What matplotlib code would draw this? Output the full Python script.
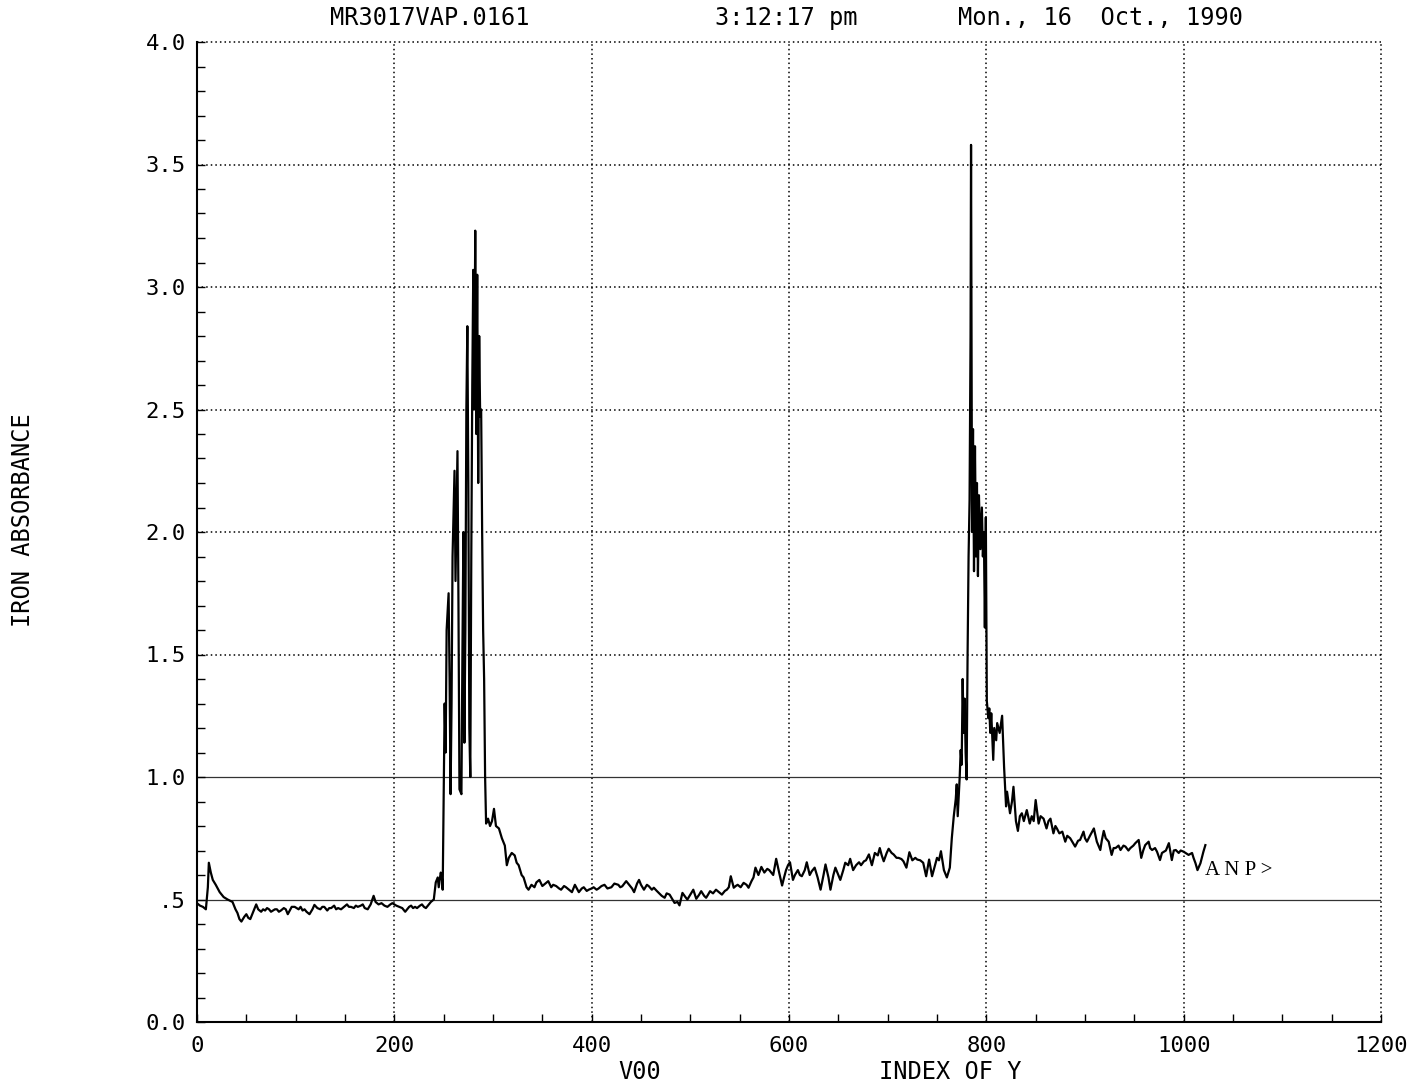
import matplotlib
matplotlib.use("Agg")
import matplotlib.pyplot as plt
from matplotlib.ticker import MultipleLocator

# ---- data: (index, iron absorbance) ----
baseline_start = [
    (0, 0.485), (3, 0.475), (6, 0.47), (9, 0.46), (11, 0.55), (12, 0.65), (14, 0.61),
    (16, 0.58), (19, 0.56), (23, 0.53), (27, 0.51), (31, 0.50), (36, 0.49), (39, 0.46),
    (41, 0.445), (43, 0.42), (45, 0.41), (48, 0.43), (50, 0.44), (52, 0.425), (54, 0.42),
    (57, 0.45), (60, 0.48), (62, 0.46), (65, 0.45), (67, 0.46), (69, 0.455), (71, 0.465),
    (73, 0.46), (75, 0.45), (77, 0.455), (79, 0.46), (81, 0.46), (83, 0.45), (85, 0.455),
    (88, 0.465), (90, 0.46), (92, 0.44), (94, 0.455), (96, 0.47), (99, 0.47), (101, 0.465),
    (103, 0.46), (105, 0.47), (107, 0.455), (109, 0.46), (111, 0.45), (114, 0.44),
    (117, 0.46), (119, 0.478), (122, 0.465), (125, 0.46), (127, 0.47), (129, 0.47),
    (132, 0.455), (134, 0.465), (136, 0.465), (139, 0.475), (141, 0.46), (143, 0.465),
    (146, 0.46), (149, 0.47), (152, 0.48), (154, 0.47), (156, 0.47), (159, 0.465),
    (161, 0.475), (163, 0.47), (166, 0.475), (168, 0.48), (170, 0.465), (173, 0.46),
    (176, 0.48), (179, 0.515), (181, 0.49), (184, 0.48), (187, 0.485), (190, 0.475),
    (193, 0.47), (196, 0.48), (198, 0.485), (202, 0.475), (205, 0.47), (208, 0.465),
    (211, 0.45), (213, 0.46), (215, 0.47), (217, 0.475), (219, 0.465), (221, 0.47),
    (223, 0.465), (226, 0.475), (228, 0.48), (230, 0.47), (232, 0.465), (235, 0.48),
    (237, 0.49), (240, 0.50),
]

peak_one = [
    (242, 0.57), (244, 0.59), (245, 0.55), (247, 0.61), (248, 0.60), (249, 0.54),
    (250, 0.9), (251, 1.3), (252, 1.1), (253, 1.6), (255, 1.75), (256, 1.4), (257, 0.93),
    (258, 1.3), (259, 1.9), (261, 2.25), (262, 1.8), (264, 2.33), (265, 1.7), (266, 0.95),
    (268, 0.93), (269, 1.5), (270, 2.0), (271, 1.14), (272, 1.6), (273, 2.5), (274, 2.84),
    (275, 2.2), (276, 1.2), (277, 1.0), (278, 1.9), (279, 2.6), (280, 3.07), (281, 2.5),
    (282, 3.23), (283, 2.4), (284, 3.05), (285, 2.2), (286, 2.8), (287, 2.47), (288, 2.5),
    (289, 2.0), (290, 1.6), (291, 1.4), (292, 1.0), (293, 0.81), (295, 0.83), (297, 0.80),
    (299, 0.82), (301, 0.87), (303, 0.80), (306, 0.79), (309, 0.75), (312, 0.72),
    (314, 0.64), (316, 0.67), (319, 0.69), (322, 0.68), (324, 0.65), (326, 0.64),
    (329, 0.60), (331, 0.59), (334, 0.55),
]

trough = [
    (336, 0.54), (339, 0.56), (342, 0.55), (344, 0.57), (347, 0.58), (350, 0.555),
    (353, 0.565), (356, 0.575), (359, 0.55), (361, 0.56), (364, 0.555), (367, 0.545),
    (369, 0.54), (372, 0.555), (374, 0.55), (377, 0.54), (380, 0.53), (383, 0.56),
    (385, 0.545), (387, 0.53), (390, 0.545), (392, 0.55), (395, 0.535), (397, 0.54),
    (400, 0.545), (402, 0.55), (405, 0.54), (407, 0.545), (410, 0.555), (413, 0.56),
    (416, 0.545), (420, 0.55), (423, 0.565), (427, 0.56), (429, 0.55),
]

plateau = [
    (431, 0.554), (435, 0.575), (438, 0.56), (441, 0.545), (443, 0.53), (446, 0.565),
    (448, 0.58), (450, 0.56), (453, 0.54), (456, 0.56), (458, 0.554), (461, 0.54),
    (463, 0.548), (466, 0.535), (468, 0.527), (471, 0.515), (474, 0.507), (476, 0.525),
    (479, 0.52), (482, 0.50), (484, 0.486), (487, 0.49), (489, 0.476), (492, 0.527),
    (495, 0.51), (497, 0.50), (500, 0.52), (503, 0.54), (506, 0.503), (509, 0.52),
    (511, 0.534), (514, 0.515), (516, 0.507), (518, 0.52), (520, 0.534), (523, 0.525),
    (526, 0.54), (529, 0.53), (532, 0.52), (535, 0.535), (537, 0.54), (539, 0.55),
    (541, 0.595), (544, 0.548), (546, 0.555), (548, 0.56), (551, 0.55), (554, 0.568),
    (557, 0.56), (559, 0.548), (562, 0.575), (564, 0.59), (566, 0.63), (569, 0.60),
    (572, 0.633), (575, 0.61), (578, 0.625), (580, 0.62), (584, 0.60), (587, 0.666),
    (590, 0.61), (593, 0.557), (595, 0.59), (597, 0.62), (599, 0.64), (601, 0.652),
    (604, 0.58), (606, 0.60), (609, 0.62), (611, 0.60), (613, 0.595), (616, 0.62),
    (618, 0.652), (621, 0.60), (623, 0.615), (626, 0.63), (629, 0.59), (632, 0.54),
    (635, 0.60), (637, 0.643), (640, 0.59), (642, 0.54), (645, 0.60), (647, 0.63),
    (650, 0.60), (652, 0.58), (655, 0.62), (657, 0.65), (660, 0.64), (662, 0.666),
    (665, 0.62), (668, 0.64), (671, 0.652), (673, 0.64), (676, 0.656), (678, 0.66),
    (681, 0.684), (684, 0.64), (687, 0.69), (690, 0.68), (692, 0.71), (694, 0.68),
    (696, 0.656), (699, 0.69), (701, 0.707), (704, 0.69), (706, 0.684), (709, 0.67),
    (711, 0.67), (714, 0.665), (716, 0.656), (719, 0.63), (722, 0.693), (725, 0.66),
    (728, 0.67), (730, 0.663), (733, 0.66), (736, 0.65), (739, 0.595), (742, 0.663),
    (745, 0.595), (748, 0.64), (750, 0.67), (752, 0.66), (754, 0.697), (757, 0.62),
    (760, 0.59), (763, 0.63),
]

peak_two = [
    (765, 0.75), (767, 0.84), (769, 0.91), (770, 0.97), (771, 0.84), (773, 1.0),
    (774, 1.11), (775, 1.05), (776, 1.40), (777, 1.18), (778, 1.32), (779, 1.1),
    (780, 0.99), (781, 1.5), (782, 1.9), (783, 2.13), (784, 2.8), (784.5, 3.58),
    (785.5, 2.0), (786.5, 2.42), (787.5, 1.84), (788.5, 2.35), (789.5, 1.9), (790.5, 2.2),
    (791.5, 1.82), (792.5, 2.15), (794, 1.93), (795.5, 2.1), (796.5, 1.9), (797.5, 2.0),
    (798.5, 1.61), (799.5, 2.06), (800.5, 1.31), (802, 1.24), (803, 1.28), (804, 1.18),
    (805, 1.26), (807, 1.07), (808, 1.20), (810, 1.15), (811, 1.22), (813.5, 1.18),
    (816, 1.25), (818, 1.04), (820, 0.88), (821, 0.94),
]

tail = [
    (824, 0.852), (826, 0.90), (827.5, 0.96), (830, 0.82), (832, 0.78), (834, 0.84),
    (836, 0.852), (838, 0.82), (841, 0.865), (844, 0.81), (846, 0.84), (848, 0.82),
    (850, 0.906), (853, 0.81), (855, 0.84), (858, 0.83), (861, 0.79), (863, 0.82),
    (865, 0.83), (868, 0.77), (870, 0.80), (871.5, 0.79), (874, 0.77), (877, 0.777),
    (880, 0.736), (882, 0.76), (885, 0.75), (888, 0.73), (890, 0.716), (893, 0.74),
    (895, 0.743), (898.5, 0.777), (900, 0.75), (902, 0.736), (905, 0.76), (909, 0.79),
    (912, 0.736), (915.5, 0.702), (917, 0.74), (919, 0.78), (921, 0.75), (924, 0.736),
    (927, 0.682), (929, 0.71), (931, 0.71), (934, 0.72), (936, 0.702), (939, 0.72),
    (941, 0.716), (944, 0.70), (946, 0.71), (949, 0.72), (951, 0.73), (954.4, 0.743),
    (957, 0.67), (959, 0.70), (961, 0.722), (964.5, 0.736), (966, 0.71), (968, 0.702),
    (971, 0.71), (973, 0.695), (976, 0.661), (978, 0.69), (980, 0.695), (982, 0.70),
    (985, 0.73), (988, 0.661), (990, 0.70), (992, 0.702), (995, 0.69), (997, 0.70),
    (1000, 0.695), (1002, 0.69), (1005, 0.682), (1008.5, 0.69), (1010, 0.67),
    (1012, 0.648), (1014, 0.62), (1017, 0.648), (1020, 0.695), (1022, 0.722),
]

x_ticks = [0, 200, 400, 600, 800, 1000, 1200]
x_tick_labels = ["0", "200", "400", "600", "800", "1000", "1200"]
y_ticks = [0.0, 0.5, 1.0, 1.5, 2.0, 2.5, 3.0, 3.5, 4.0]
y_tick_labels = ["0.0", ".5", "1.0", "1.5", "2.0", "2.5", "3.0", "3.5", "4.0"]
dotted_x_grid = [200, 400, 600, 800, 1000, 1200]
dotted_y_grid = [1.5, 2.0, 2.5, 3.0, 3.5, 4.0]
solid_y_grid = [0.5, 1.0]

title_parts = ["MR3017VAP.0161", "3:12:17 pm", "Mon., 16  Oct., 1990"]
y_label = "IRON ABSORBANCE"
x_label_parts = ["V00", "INDEX OF Y"]
annotation = "A N P >"

segments = [baseline_start, peak_one, trough, plateau, peak_two, tail]
xs = [p[0] for seg in segments for p in seg]
ys = [p[1] for seg in segments for p in seg]

W, H = 1414, 1087
fig = plt.figure(figsize=(W / 100, H / 100), dpi=100)
left_px, right_px, top_px, bottom_px = 197, 1381, 42, 1022
ax = fig.add_axes([left_px / W, 1 - bottom_px / H,
                   (right_px - left_px) / W, (bottom_px - top_px) / H])

mono = "DejaVu Sans Mono"

ax.plot(xs, ys, color="black", lw=1.6, zorder=3)
ax.set_xlim(0, 1200)
ax.set_ylim(0, 4.0)

for gx in dotted_x_grid:
    ax.axvline(gx, color="black", lw=1.1, ls=(0, (1, 2)), zorder=1, clip_on=False)
for gy in dotted_y_grid:
    ax.axhline(gy, color="black", lw=1.1, ls=(0, (1, 2)), zorder=1, clip_on=False)
for gy in solid_y_grid:
    ax.axhline(gy, color="0.2", lw=0.9, zorder=1)

ax.spines["top"].set_visible(False)
ax.spines["right"].set_visible(False)
for s in ("left", "bottom"):
    ax.spines[s].set_color("black")
    ax.spines[s].set_linewidth(1.5)

ax.set_xticks(x_ticks)
ax.set_xticklabels(x_tick_labels, fontfamily=mono, fontsize=16)
ax.set_yticks(y_ticks)
ax.set_yticklabels(y_tick_labels, fontfamily=mono, fontsize=16)
ax.xaxis.set_minor_locator(MultipleLocator(50))
ax.yaxis.set_minor_locator(MultipleLocator(0.1))
ax.tick_params(axis="both", which="both", direction="in", length=6, width=1, color="black")
ax.tick_params(axis="x", which="major", pad=10)
ax.tick_params(axis="y", which="major", pad=8)

ax.text(1022, 0.62, annotation, family="Liberation Serif", fontsize=15,
        ha="left", va="center", zorder=4)

title_centers = [430, 786, 1100]
for txt, cx in zip(title_parts, title_centers):
    fig.text(cx / W, 1 - 18 / H, txt, fontfamily=mono, fontsize=17,
             ha="center", va="center")

fig.text(23 / W, 1 - 520 / H, y_label, fontfamily=mono, fontsize=17,
         rotation=90, ha="center", va="center")

x_label_centers = [640, 950]
for txt, cx in zip(x_label_parts, x_label_centers):
    fig.text(cx / W, 1 - 1072 / H, txt, fontfamily=mono, fontsize=17,
             ha="center", va="center")

fig.savefig("out.png", dpi=100, facecolor="white")
